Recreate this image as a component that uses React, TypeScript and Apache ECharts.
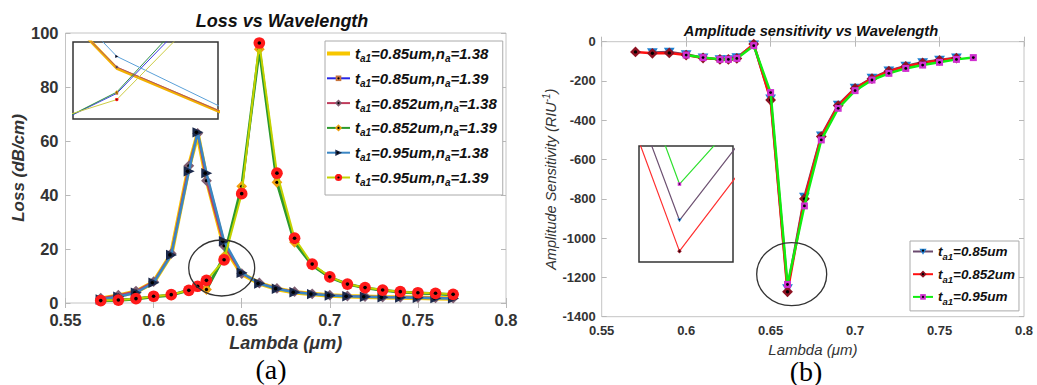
import React, { useEffect, useRef } from 'react';
import * as echarts from 'echarts';

// ---------- data ----------
const lambda = [0.57, 0.58, 0.59, 0.6, 0.61, 0.62, 0.625, 0.63, 0.64, 0.65, 0.66, 0.67, 0.68, 0.69, 0.7, 0.71, 0.72, 0.73, 0.74, 0.75, 0.76, 0.77];

// Loss (dB/cm), panel (a)
const loss_t085_n138 = [1.6, 2.7, 4.2, 7.7, 18.0, 50.4, 62.5, 46.0, 21.0, 10.8, 7.3, 5.2, 4.0, 3.3, 2.8, 2.5, 2.3, 2.1, 2.0, 1.9, 1.8, 1.7];
const loss_t085_n139 = [0.9, 1.1, 1.6, 2.4, 3.0, 4.8, 6.0, 5.2, 17.0, 42.0, 94.5, 45.5, 23.0, 14.0, 9.5, 7.0, 5.6, 4.7, 4.1, 3.7, 3.4, 3.1];
const loss_t0852_n138 = [1.8, 2.9, 4.4, 7.9, 18.3, 50.8, 62.8, 45.3, 21.2, 10.9, 7.4, 5.4, 4.2, 3.4, 2.9, 2.6, 2.4, 2.2, 2.1, 2.0, 1.9, 1.8];
const loss_t0852_n139 = [0.8, 1.0, 1.5, 2.3, 2.9, 4.7, 6.0, 5.0, 17.2, 43.2, 94.0, 44.7, 22.5, 14.0, 9.5, 7.0, 5.6, 4.7, 4.1, 3.7, 3.4, 3.1];
const loss_t095_n138 = [1.3, 2.3, 3.8, 7.5, 17.8, 48.8, 63.2, 48.1, 22.9, 11.2, 7.2, 5.3, 4.0, 3.3, 2.8, 2.5, 2.3, 2.1, 2.0, 1.9, 1.8, 1.7];
const loss_t095_n139 = [0.9, 1.1, 1.6, 2.5, 3.1, 4.7, 6.2, 8.4, 16.0, 40.5, 96.3, 48.1, 24.0, 14.4, 9.7, 7.0, 5.7, 4.8, 4.2, 3.8, 3.6, 3.2];

// Amplitude sensitivity (RIU^-1), panel (b)
const sens_t085 = [null, -55, -52, -65, -82, -90, -90, -80, -15, -290, -1256, -790, -478, -322, -236, -185, -148, -124, -105, -93, -82, null];
const sens_t0852 = [-52, -59, -57, -68, -83, -90, -90, -85, -12, -297, -1273, -800, -483, -325, -238, -188, -150, -126, -108, -95, -84, null];
const sens_t095 = [null, null, null, -68, -81, -90, -90, -85, -20, -259, -1236, -836, -500, -339, -249, -195, -161, -136, -119, -105, -90, -81];

const lossNames = [
  't_a1=0.85um,n_a=1.38',
  't_a1=0.85um,n_a=1.39',
  't_a1=0.852um,n_a=1.38',
  't_a1=0.852um,n_a=1.39',
  't_a1=0.95um,n_a=1.38',
  't_a1=0.95um,n_a=1.39',
];
const sensNames = ['t_a1=0.85um', 't_a1=0.852um', 't_a1=0.95um'];

// ---------- helpers ----------
const SANS = "'Liberation Sans', Arial, sans-serif";

function pts(ys: (number | null)[]) {
  const out: number[][] = [];
  lambda.forEach((x, i) => {
    if (ys[i] !== null && ys[i] !== undefined) out.push([x, ys[i] as number]);
  });
  return out;
}

function sym(shape: string, fill: string) {
  let body = '';
  let cx = 10, cy = 10;
  if (shape === 'square') body = `<rect x="3" y="3" width="14" height="14" fill="${fill}"/>`;
  else if (shape === 'diamond') body = `<polygon points="10,1 19,10 10,19 1,10" fill="${fill}"/>`;
  else if (shape === 'triRight') { body = `<polygon points="2,2 19,10 2,18" fill="${fill}"/>`; cx = 8; }
  else if (shape === 'triDown') { body = `<polygon points="1,3 19,3 10,18" fill="${fill}"/>`; cy = 8; }
  else body = `<circle cx="10" cy="10" r="9" fill="${fill}"/>`;
  const svg = `<svg xmlns="http://www.w3.org/2000/svg" width="20" height="20" viewBox="0 0 20 20">${body}<circle cx="${cx}" cy="${cy}" r="2.8" fill="#000"/></svg>`;
  return 'image://data:image/svg+xml;charset=utf-8,' + encodeURIComponent(svg);
}

const leftStyles = [
  { line: '#f7c600', width: 4.5, symbol: 'none', size: 0, insetLine: '#f2b000', insetW: 3 },
  { line: '#2626e6', width: 2, symbol: sym('square', '#c8743c'), size: 9, insetLine: '#3a3ae0', insetW: 1 },
  { line: '#c03c5c', width: 2, symbol: sym('diamond', '#7e5e72'), size: 12, insetLine: '#b0506a', insetW: 1 },
  { line: '#2c9a2c', width: 3, symbol: sym('diamond', '#f0a010'), size: 12, insetLine: '#2e8e46', insetW: 1 },
  { line: '#3a86c4', width: 2.5, symbol: sym('triRight', '#1c2a4c'), size: 13, insetLine: '#5aa0d8', insetW: 1 },
  { line: '#c4d200', width: 2, symbol: sym('circle', '#ff1a1a'), size: 13, insetLine: '#cccc44', insetW: 1 },
];
const lossData = [loss_t085_n138, loss_t085_n139, loss_t0852_n138, loss_t0852_n139, loss_t095_n138, loss_t095_n139];

const rightStyles = [
  { line: '#6a4a6e', symbol: sym('triDown', '#1e7fd0'), size: 12, insetLine: '#6e5272' },
  { line: '#ff1010', symbol: sym('diamond', '#8e1222'), size: 12, insetLine: '#ff3030' },
  { line: '#10ee10', symbol: sym('square', '#d030d0'), size: 10, insetLine: '#30e030' },
];
const sensData = [sens_t085, sens_t0852, sens_t095];

const tickLabel = (v: number) => String(Math.round(v * 1000) / 1000);
const thickLineIcon = 'path://M0,0 L0.01,0 L0.01,10 L0,10 Z M0,3.1 L23,3.1 L23,6.9 L0,6.9 Z';

export default function App() {
  const ref = useRef<HTMLDivElement>(null);
  useEffect(() => {
    document.body.style.margin = '0';
    if (!ref.current) return;
    const chart = echarts.init(ref.current, null, { renderer: 'svg' });

    const frame = { show: true, borderColor: '#c4c4c4', borderWidth: 1, backgroundColor: '#fff' };
    const insetFrame = { show: true, borderColor: '#333', borderWidth: 1.5, backgroundColor: '#fff', z: 10 };

    const tick = { show: true, inside: true, length: 5, lineStyle: { color: '#b8b8b8' } };

    const series: any[] = [];
    lossData.forEach((d, i) => {
      const st = leftStyles[i];
      series.push({
        name: lossNames[i], type: 'line', xAxisIndex: 0, yAxisIndex: 0, data: pts(d),
        symbol: st.symbol, symbolSize: st.size, showSymbol: st.symbol !== 'none',
        lineStyle: { color: st.line, width: st.width }, itemStyle: { color: st.line },
        z: 2 + i, silent: true,
      });
    });
    lossData.forEach((d, i) => {
      const st = leftStyles[i];
      series.push({
        name: 'inset ' + lossNames[i], type: 'line', xAxisIndex: 2, yAxisIndex: 2, data: pts(d),
        symbol: st.symbol === 'none' ? 'none' : st.symbol, symbolSize: 4, clip: true,
        lineStyle: { color: st.insetLine, width: st.insetW }, itemStyle: { color: st.insetLine },
        z: 20 + i, silent: true,
      });
    });
    sensData.forEach((d, i) => {
      const st = rightStyles[i];
      series.push({
        name: sensNames[i], type: 'line', xAxisIndex: 3, yAxisIndex: 3, data: pts(d),
        symbol: st.symbol, symbolSize: st.size,
        lineStyle: { color: st.line, width: 2.5 }, itemStyle: { color: st.line },
        z: 2 + i, silent: true,
      });
    });
    sensData.forEach((d, i) => {
      const st = rightStyles[i];
      series.push({
        name: 'inset ' + sensNames[i], type: 'line', xAxisIndex: 5, yAxisIndex: 5, data: pts(d),
        symbol: st.symbol, symbolSize: 5, clip: true,
        lineStyle: { color: st.insetLine, width: 1.2 }, itemStyle: { color: st.insetLine },
        z: 20 + i, silent: true,
      });
    });

    const legendRich = (main: number, sub: number, lh: number, pad: number) => ({
      m: { fontFamily: SANS, fontSize: main, fontWeight: 'bold', fontStyle: 'italic', color: '#111', lineHeight: lh, verticalAlign: 'middle' },
      s: { fontFamily: SANS, fontSize: sub, fontWeight: 'bold', fontStyle: 'italic', color: '#111', lineHeight: sub, padding: [pad, 0, 0, 0], verticalAlign: 'top' },
    });

    const option: any = {
      animation: false,
      backgroundColor: '#fff',
      grid: [
        { left: 65.5, top: 33, width: 440.5, height: 270, ...frame, outerBoundsMode: 'none' },
        { left: 73, top: 42, width: 145, height: 77, ...insetFrame, outerBoundsMode: 'none' },
        { left: 601.7, top: 41.7, width: 422.3, height: 275, ...frame, outerBoundsMode: 'none' },
        { left: 639, top: 146, width: 94, height: 116, ...insetFrame, outerBoundsMode: 'none' },
      ],
      xAxis: [
        {
          type: 'value', gridIndex: 0, min: 0.55, max: 0.8, interval: 0.05, position: 'bottom',
          axisLine: { show: false }, axisTick: tick, splitLine: { show: false },
          axisLabel: { formatter: tickLabel, fontFamily: SANS, fontSize: 16.5, fontWeight: 'bold', color: '#333', margin: 8 },
          name: 'Lambda (\u03bcm)', nameLocation: 'middle', nameGap: 31,
          nameTextStyle: { fontFamily: SANS, fontSize: 18, fontWeight: 'bold', fontStyle: 'italic', color: '#333' },
        },
        {
          type: 'value', gridIndex: 0, min: 0.55, max: 0.8, interval: 0.05, position: 'top',
          axisLine: { show: false }, axisTick: tick, axisLabel: { show: false }, splitLine: { show: false },
        },
        { type: 'value', gridIndex: 1, min: 0.6371, max: 0.6467, show: false },
        {
          type: 'value', gridIndex: 2, min: 0.55, max: 0.8, interval: 0.05, position: 'bottom',
          axisLine: { show: false }, axisTick: tick, splitLine: { show: false },
          axisLabel: { formatter: tickLabel, fontFamily: SANS, fontSize: 13, fontWeight: 'bold', color: '#333', margin: 7 },
          name: 'Lambda (\u03bcm)', nameLocation: 'middle', nameGap: 14,
          nameTextStyle: { fontFamily: SANS, fontSize: 15, fontStyle: 'italic', color: '#333' },
        },
        {
          type: 'value', gridIndex: 2, min: 0.55, max: 0.8, interval: 0.05, position: 'top',
          axisLine: { show: false }, axisTick: tick, axisLabel: { show: false }, splitLine: { show: false },
        },
        { type: 'value', gridIndex: 3, min: 0.65938, max: 0.66082, show: false },
      ],
      yAxis: [
        {
          type: 'value', gridIndex: 0, min: 0, max: 100, interval: 20, position: 'left',
          axisLine: { show: false }, axisTick: tick, splitLine: { show: false },
          axisLabel: { fontFamily: SANS, fontSize: 16.5, fontWeight: 'bold', color: '#333', margin: 7 },
          name: 'Loss (dB/cm)', nameLocation: 'middle', nameGap: 35,
          nameTextStyle: { fontFamily: SANS, fontSize: 17, fontWeight: 'bold', fontStyle: 'italic', color: '#333' },
        },
        {
          type: 'value', gridIndex: 0, min: 0, max: 100, interval: 20, position: 'right',
          axisLine: { show: false }, axisTick: tick, axisLabel: { show: false }, splitLine: { show: false },
        },
        { type: 'value', gridIndex: 1, min: 12.9, max: 25.2, show: false },
        {
          type: 'value', gridIndex: 2, min: -1400, max: 0, interval: 200, position: 'left',
          axisLine: { show: false }, axisTick: tick, splitLine: { show: false },
          axisLabel: { formatter: (v: number) => String(v), fontFamily: SANS, fontSize: 13, fontWeight: 'bold', color: '#333', margin: 6 },
          name: '{i|Amplitude Sensitivity (RIU}{p|-1}{i|)}', nameLocation: 'middle', nameGap: 36,
          nameTextStyle: {
            fontFamily: SANS, fontSize: 14.5, fontStyle: 'italic', color: '#333',
            rich: {
              i: { fontFamily: SANS, fontSize: 14.5, fontStyle: 'italic', color: '#333', lineHeight: 22, verticalAlign: 'middle' },
              p: { fontFamily: SANS, fontSize: 10, fontStyle: 'italic', color: '#333', lineHeight: 10, padding: [1, 0, 0, 0], verticalAlign: 'top' },
            },
          },
        },
        {
          type: 'value', gridIndex: 2, min: -1400, max: 0, interval: 200, position: 'right',
          axisLine: { show: false }, axisTick: tick, axisLabel: { show: false }, splitLine: { show: false },
        },
        { type: 'value', gridIndex: 3, min: -1279, max: -1215, show: false },
      ],
      legend: [
        {
          data: lossNames.map((n, i) => (i === 0 ? { name: n, icon: thickLineIcon } : { name: n })),
          orient: 'vertical', left: 325, top: 41,
          itemWidth: 23, itemHeight: 10, itemGap: 6.8, padding: [4.5, 6, 7.5, 1],
          backgroundColor: '#fff', borderColor: '#aaa', borderWidth: 1,
          formatter: (name: string) => {
            const m = name.match(/t_a1=(.*?)um,n_a=(.*)/);
            if (!m) return name;
            return `{m|t}{s|a1}{m|=${m[1]}um,n}{s|a}{m|=${m[2]}}`;
          },
          textStyle: { rich: legendRich(15, 10, 16, 8) },
          selectedMode: false,
        },
        {
          data: sensNames, orient: 'vertical', left: 910, top: 241,
          itemWidth: 20, itemHeight: 10, itemGap: 5.2, padding: [3, 4, 4, 2],
          backgroundColor: '#fff', borderColor: '#aaa', borderWidth: 1,
          formatter: (name: string) => {
            const m = name.match(/t_a1=(.*?)um/);
            if (!m) return name;
            return `{m|t}{s|a1}{m|=${m[1]}um}`;
          },
          textStyle: { rich: legendRich(13.5, 9.5, 15, 7.5) },
          selectedMode: false,
        },
      ],
      graphic: [
        { type: 'text', x: 282, y: 21, z: 50, style: { text: 'Loss vs Wavelength', font: `italic bold 18px ${SANS}`, fill: '#111', textAlign: 'center', textVerticalAlign: 'middle' } },
        { type: 'text', x: 811, y: 31, z: 50, style: { text: 'Amplitude sensitivity vs Wavelength', font: `italic bold 14.7px ${SANS}`, fill: '#111', textAlign: 'center', textVerticalAlign: 'middle' } },
        { type: 'text', x: 271, y: 369, z: 50, style: { text: '(a)', font: `28px 'Liberation Serif', 'Times New Roman', serif`, fill: '#000', textAlign: 'center', textVerticalAlign: 'middle' } },
        { type: 'text', x: 806, y: 371, z: 50, style: { text: '(b)', font: `28px 'Liberation Serif', 'Times New Roman', serif`, fill: '#000', textAlign: 'center', textVerticalAlign: 'middle' } },
        { type: 'ellipse', z: 50, shape: { cx: 221.7, cy: 268, rx: 33, ry: 28 }, style: { fill: 'none', stroke: '#333', lineWidth: 1.3 } },
        { type: 'ellipse', z: 50, shape: { cx: 791.7, cy: 274.2, rx: 35, ry: 31.5 }, style: { fill: 'none', stroke: '#333', lineWidth: 1.3 } },
      ],
      series,
    };
    chart.setOption(option);
    return () => chart.dispose();
  }, []);
  return <div ref={ref} style={{ width: 1037, height: 385 }} />;
}
